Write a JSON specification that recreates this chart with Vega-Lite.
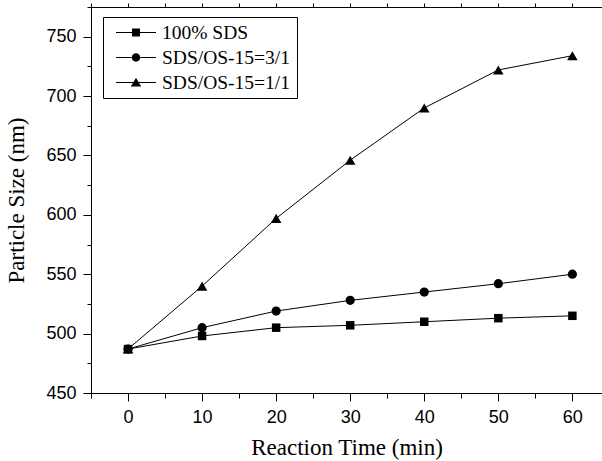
{
  "$schema": "https://vega.github.io/schema/vega-lite/v6.json",
  "width": 511,
  "height": 386,
  "autosize": {"type": "none"},
  "padding": {"left": 91, "top": 7, "right": 0, "bottom": 68},
  "background": "white",
  "config": {
    "view": {"stroke": null},
    "axis": {
      "labelFont": "Liberation Sans",
      "labelFontSize": 18,
      "labelColor": "black",
      "titleFont": "Liberation Serif",
      "titleFontSize": 23,
      "titleFontWeight": "normal",
      "titleColor": "black",
      "domainColor": "black",
      "tickColor": "black",
      "grid": false
    }
  },
  "data": {
    "values": [
      {"t": 0, "size": 487, "series": "100% SDS"},
      {"t": 10, "size": 498, "series": "100% SDS"},
      {"t": 20, "size": 505, "series": "100% SDS"},
      {"t": 30, "size": 507, "series": "100% SDS"},
      {"t": 40, "size": 510, "series": "100% SDS"},
      {"t": 50, "size": 513, "series": "100% SDS"},
      {"t": 60, "size": 515, "series": "100% SDS"},
      {"t": 0, "size": 487, "series": "SDS/OS-15=3/1"},
      {"t": 10, "size": 505, "series": "SDS/OS-15=3/1"},
      {"t": 20, "size": 519, "series": "SDS/OS-15=3/1"},
      {"t": 30, "size": 528, "series": "SDS/OS-15=3/1"},
      {"t": 40, "size": 535, "series": "SDS/OS-15=3/1"},
      {"t": 50, "size": 542, "series": "SDS/OS-15=3/1"},
      {"t": 60, "size": 550, "series": "SDS/OS-15=3/1"},
      {"t": 0, "size": 487, "series": "SDS/OS-15=1/1"},
      {"t": 10, "size": 540, "series": "SDS/OS-15=1/1"},
      {"t": 20, "size": 597, "series": "SDS/OS-15=1/1"},
      {"t": 30, "size": 646, "series": "SDS/OS-15=1/1"},
      {"t": 40, "size": 690, "series": "SDS/OS-15=1/1"},
      {"t": 50, "size": 722, "series": "SDS/OS-15=1/1"},
      {"t": 60, "size": 734, "series": "SDS/OS-15=1/1"}
    ]
  },
  "layer": [
    {
      "mark": {"type": "line", "color": "black", "strokeWidth": 1},
      "encoding": {
        "x": {
          "field": "t", "type": "quantitative",
          "scale": {"domain": [-5, 64], "nice": false, "zero": false},
          "axis": {
            "orient": "bottom", "values": [0, 10, 20, 30, 40, 50, 60],
            "tickSize": 8, "labelPadding": 7, "title": "Reaction Time (min)",
            "titlePadding": 10, "domain": true
          }
        },
        "y": {
          "field": "size", "type": "quantitative",
          "scale": {"domain": [450, 775], "nice": false, "zero": false},
          "axis": {
            "orient": "left", "values": [450, 500, 550, 600, 650, 700, 750],
            "tickSize": 8, "labelPadding": 7, "title": "Particle Size  (nm)",
            "titlePadding": 17, "domain": true
          }
        },
        "detail": {"field": "series", "type": "nominal"}
      }
    },
    {
      "transform": [{"filter": "datum.series === '100% SDS'"}],
      "mark": {"type": "point", "shape": "square", "filled": true, "color": "black", "opacity": 1, "size": 72},
      "encoding": {
        "x": {
          "field": "t", "type": "quantitative",
          "axis": {
            "orient": "bottom", "values": [-5, 5, 15, 25, 35, 45, 55],
            "tickSize": 5, "labels": false, "domain": false, "title": null
          }
        },
        "y": {
          "field": "size", "type": "quantitative",
          "axis": {
            "orient": "left", "values": [475, 525, 575, 625, 675, 725, 775],
            "tickSize": 4, "labels": false, "domain": false, "title": null
          }
        }
      }
    },
    {
      "transform": [{"filter": "datum.series === 'SDS/OS-15=3/1'"}],
      "mark": {"type": "point", "shape": "circle", "filled": true, "color": "black", "opacity": 1, "size": 85},
      "encoding": {
        "x": {
          "field": "t", "type": "quantitative",
          "axis": {
            "orient": "top", "values": [-5, 0, 5, 10, 15, 20, 25, 30, 35, 40, 45, 50, 55, 60],
            "tickSize": 4, "labels": false, "domain": true, "title": null
          }
        },
        "y": {"field": "size", "type": "quantitative", "axis": null}
      }
    },
    {
      "transform": [{"filter": "datum.series === 'SDS/OS-15=1/1'"}],
      "mark": {"type": "point", "shape": "triangle-up", "filled": true, "color": "black", "opacity": 1, "size": 110},
      "encoding": {
        "x": {"field": "t", "type": "quantitative", "axis": null},
        "y": {"field": "size", "type": "quantitative", "axis": null}
      }
    },
    {
      "transform": [{"filter": "datum.t > 1000"}],
      "mark": {"type": "point", "filled": true, "color": "black", "opacity": 1, "size": 1600},
      "encoding": {
        "x": {"field": "t", "type": "quantitative", "axis": null},
        "y": {"field": "size", "type": "quantitative", "axis": null},
        "shape": {
          "field": "series", "type": "nominal",
          "scale": {
            "domain": ["100% SDS", "SDS/OS-15=3/1", "SDS/OS-15=1/1"],
            "range": [
              "M-1,-0.025H-0.2V0.025H-1ZM0.2,-0.025H1V0.025H0.2ZM-0.2,-0.2H0.2V0.2H-0.2Z",
              "M-1,-0.025H-0.2V0.025H-1ZM0.2,-0.025H1V0.025H0.2ZM-0.21,0A0.21,0.21,0,1,0,0.21,0A0.21,0.21,0,1,0,-0.21,0Z",
              "M-1,-0.025H-0.14V0.025H-1ZM0.14,-0.025H1V0.025H0.14ZM0,-0.24L0.26,0.2L-0.26,0.2Z"
            ]
          },
          "legend": {
            "title": null,
            "orient": "none",
            "legendX": 12,
            "legendY": 10,
            "strokeColor": "black",
            "fillColor": "white",
            "cornerRadius": 0,
            "padding": 6,
            "rowPadding": 5,
            "clipHeight": 19,
            "labelFont": "Liberation Serif",
            "labelFontSize": 19.5,
            "labelColor": "black",
            "labelOffset": 5,
            "symbolOffset": 6,
            "symbolSize": 1600,
            "symbolFillColor": "black",
            "symbolOpacity": 1
          }
        }
      }
    }
  ],
  "resolve": {"axis": {"x": "independent", "y": "independent"}}
}
